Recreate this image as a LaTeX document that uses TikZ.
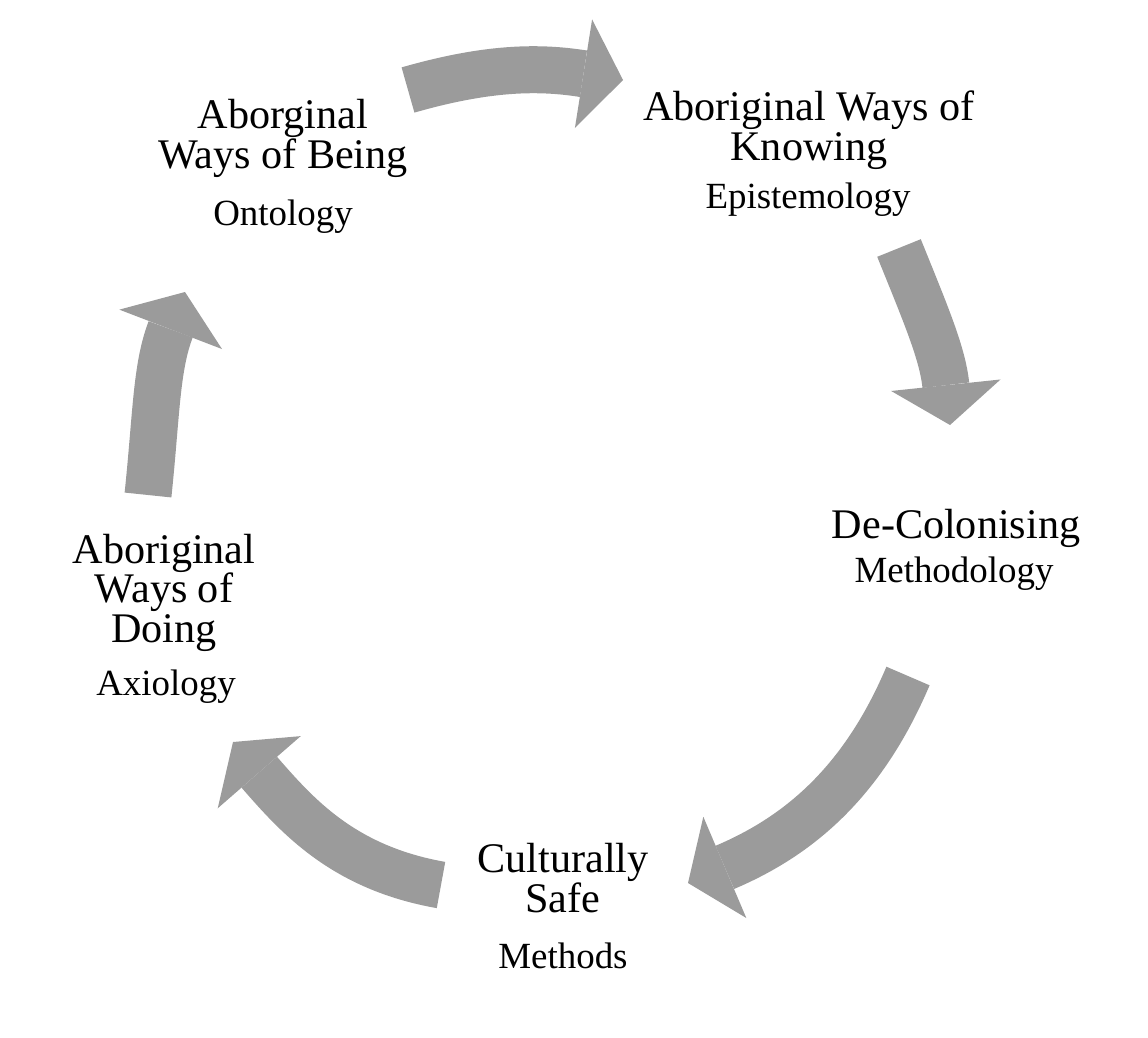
\documentclass[tikz,border=0pt]{standalone}
\usepackage{fontspec}
\setmainfont{Liberation Serif}
\usetikzlibrary{positioning,arrows.meta}

\definecolor{cyclegray}{RGB}{155,155,155}

\begin{document}
\begin{tikzpicture}[x=0.1mm,y=0.1mm,
	ttl/.style={align=center,anchor=base,inner sep=0pt,font=\fontsize{12}{11.2}\selectfont},
	sub/.style={anchor=base,inner sep=0pt,font=\fontsize{10.5}{12}\selectfont},
	cyc/.style={draw=cyclegray,line width=4.7mm,-{Triangle[width=11mm,length=4mm,line width=0pt]}}]
	\useasboundingbox (0,0) rectangle (1148,1037);
	%% the five steps (base = last line)
	\node[ttl] (being) at (283,869) {Aborginal\\Ways of Being};
	\node[sub] (onto) at (283,812) {Ontology};
	\node[ttl] (knowing) at (809,877) {Aboriginal Ways of\\Knowing};
	\node[sub] (episte) at (808,829) {Epistemology};
	\node[ttl] (decol) at (956,499) {De-Colonising};
	\node[sub] (method) at (954,455) {Methodology};
	\node[ttl] (safe) at (563,125) {Culturally\\Safe};
	\node[sub] (methods) at (563,69) {Methods};
	\node[ttl] (doing) at (164,395) {Aboriginal\\Ways of\\Doing};
	\node[sub] (axio) at (166,342) {Axiology};
	%% ends of the block arrows
	\coordinate (t1) at (408,947); \coordinate (h1) at (623,957);
	\coordinate (t2) at (899,789); \coordinate (h2) at (950,612);
	\coordinate (t3) at (908,361); \coordinate (h3) at (688,154);
	\coordinate (t4) at (441,152); \coordinate (h4) at (233,295);
	\coordinate (t5) at (148,542); \coordinate (h5) at (185,745);
	% 循环箭头
	\draw[cyc] (t1) to[out=16,in=171] (h1);
	\draw[cyc] (t2) to[out=-68,in=96] (h2);
	\draw[cyc] (t3) to[out=247,in=23] (h3);
	\draw[cyc] (t4) to[out=170,in=-49] (h4);
	\draw[cyc] (t5) to[out=84,in=-111] (h5);
\end{tikzpicture}
\end{document}
